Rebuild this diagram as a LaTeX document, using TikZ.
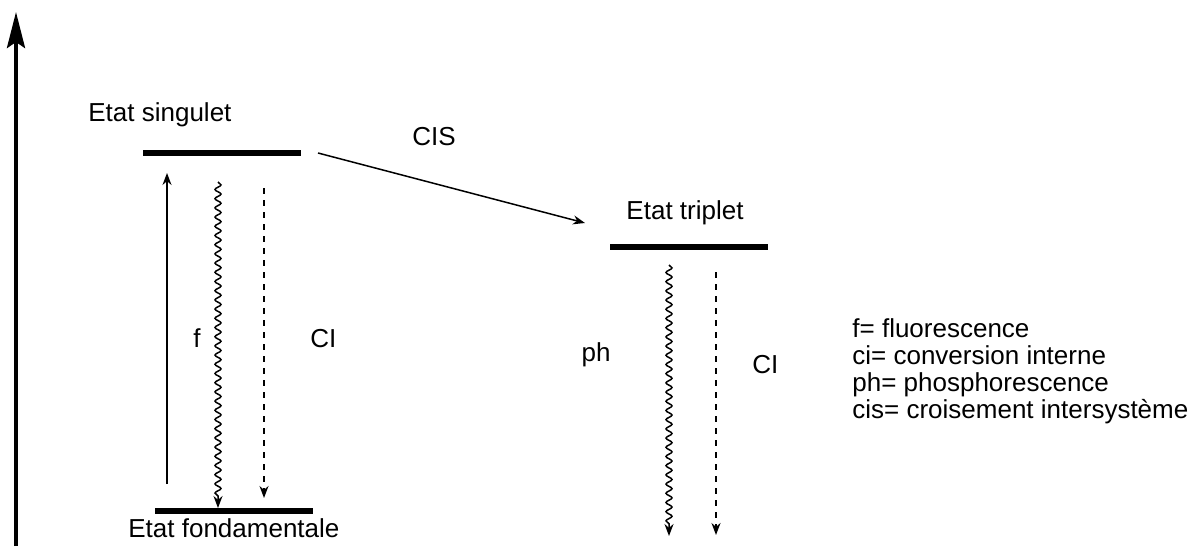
\documentclass[tikz,border=0pt]{standalone}
\usepackage{fontspec}
\setmainfont{Liberation Sans}
\usetikzlibrary{arrows.meta,decorations.pathmorphing}
\begin{document}
\begin{tikzpicture}[x=0.5pt,y=-0.5pt,
  every node/.style={inner sep=0pt,font=\fontsize{13}{15}\selectfont},
  level/.style={line width=3pt},
  thinarrow/.style={line width=0.75pt,-{Stealth[length=6pt,width=4.5pt]}},
  wavyarrow/.style={thinarrow,decorate,decoration={snake,amplitude=1.5pt,segment length=4.6pt,post length=6pt}},
  dasharrow/.style={thinarrow,dash pattern=on 3pt off 3pt},
  bigarrow/.style={line width=2pt,-{Stealth[length=18pt,width=9pt,inset=3pt]}},
  keytext/.style={anchor=base west}]
\useasboundingbox (0,0) rectangle (1199,546);
% energy axis
\coordinate (ax0) at (16,546);
\coordinate (ax1) at (16,12);
\draw[bigarrow] (ax0) -- (ax1);
% levels
\coordinate (s0) at (143,153); \coordinate (s1) at (301,153);
\coordinate (g0) at (155,511); \coordinate (g1) at (313,511);
\coordinate (t0) at (610,247); \coordinate (t1) at (768,247);
\draw[level] (s0) -- (s1);
\draw[level] (g0) -- (g1);
\draw[level] (t0) -- (t1);
% labels
\node[anchor=base west] (ls) at (88,121) {Etat singulet};
\node[anchor=base west] (lg) at (128,537) {Etat fondamentale};
\node[anchor=base] (lt) at (685,219) {Etat triplet};
\node[anchor=base west] (lcis) at (412,145) {CIS};
\node[anchor=base] (lf) at (197,347) {f};
\node[anchor=base west] (lci1) at (310,347) {CI};
\node[anchor=base] (lph) at (596,361) {ph};
\node[anchor=base west] (lci2) at (752,373) {CI};
% singlet transitions
\coordinate (fa) at (167,484); \coordinate (fb) at (167,173);
\draw[thinarrow] (fa) -- (fb);
\coordinate (wa) at (218,182); \coordinate (wb) at (218,508);
\draw[wavyarrow] (wa) -- (wb);
\coordinate (da) at (264,188); \coordinate (db) at (264,498);
\draw[dasharrow] (da) -- (db);
% intersystem crossing
\coordinate (ca) at (318,153); \coordinate (cb) at (585,223);
\draw[thinarrow] (ca) -- (cb);
% triplet transitions
\coordinate (pa) at (669,265); \coordinate (pb) at (669,536);
\draw[wavyarrow] (pa) -- (pb);
\coordinate (qa) at (716,272); \coordinate (qb) at (716,535);
\draw[dasharrow] (qa) -- (qb);
% legend
\node[keytext] (k1) at (852,337) {f= fluorescence};
\node[keytext] (k2) at (852,364) {ci= conversion interne};
\node[keytext] (k3) at (852,391) {ph= phosphorescence};
\node[keytext] (k4) at (852,418) {cis= croisement intersystème};
\end{tikzpicture}
\end{document}
